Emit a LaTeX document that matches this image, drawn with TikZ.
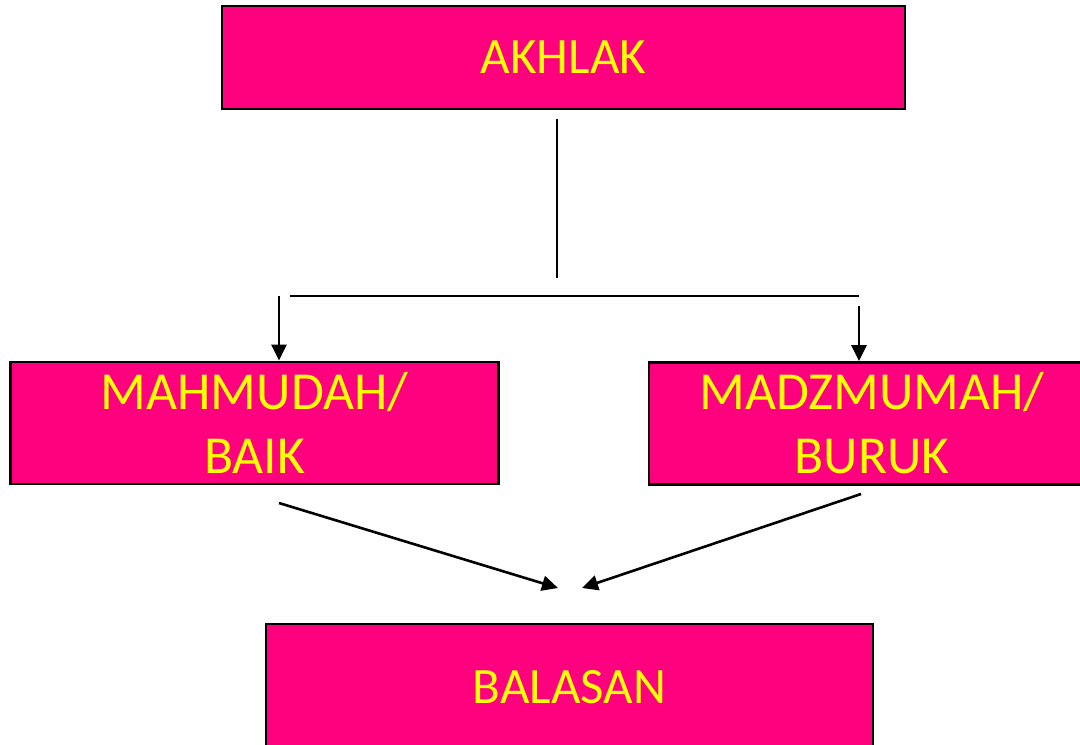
\documentclass[tikz,border=0pt]{standalone}
\usepackage{fontspec}
\setmainfont{Carlito}
\usetikzlibrary{arrows.meta}
\definecolor{kotak}{RGB}{255,0,127}
\definecolor{tulisan}{RGB}{255,255,0}
\tikzset{
  kotak/.style={draw=black,line width=2.8pt,fill=kotak,text=tulisan,align=center,
    inner sep=0pt,font=\fontsize{51}{64}\selectfont},
  garis/.style={line width=2.6pt}
}
\begin{document}
\begin{tikzpicture}[>={Triangle[length=16pt,width=15pt]},x=1pt,y=-1pt]
\clip(0,0) rectangle (1080,745);
\fill[white](0,0) rectangle (1080,745);
\node[kotak,minimum width=683pt,minimum height=103pt](akhlak) at (563.5,57.5){AKHLAK};
\node[kotak,minimum width=488pt,minimum height=122pt,font=\fontsize{53.5}{64}\selectfont](baik) at (254.5,423){MAHMUDAH/\\BAIK};
\node[kotak,minimum width=446pt,minimum height=122pt,font=\fontsize{53.5}{64}\selectfont](buruk) at (872,423.5){MADZMUMAH/\\BURUK};
\node[kotak,minimum width=607pt,minimum height=126pt](balasan) at (569.5,687){BALASAN};
\coordinate(a1) at (557,119);
\coordinate(a2) at (557,278);
\coordinate(h1) at (290,296);
\coordinate(h2) at (859,296);
\coordinate(k1) at (279,296);
\coordinate(k2) at (859,306);
\coordinate(b1) at (279,503);
\coordinate(b2) at (861,494);
\coordinate(t1) at (558,588);
\coordinate(t2) at (582,588);
\draw[garis](a1)--(a2);
\draw[garis](h1)--(h2);
\draw[garis,->](k1)--(k1|-baik.north);
\draw[garis,->](k2)--(k2|-buruk.north);
\draw[garis,->](b1)--(t1);
\draw[garis,->](b2)--(t2);
\end{tikzpicture}
\end{document}
